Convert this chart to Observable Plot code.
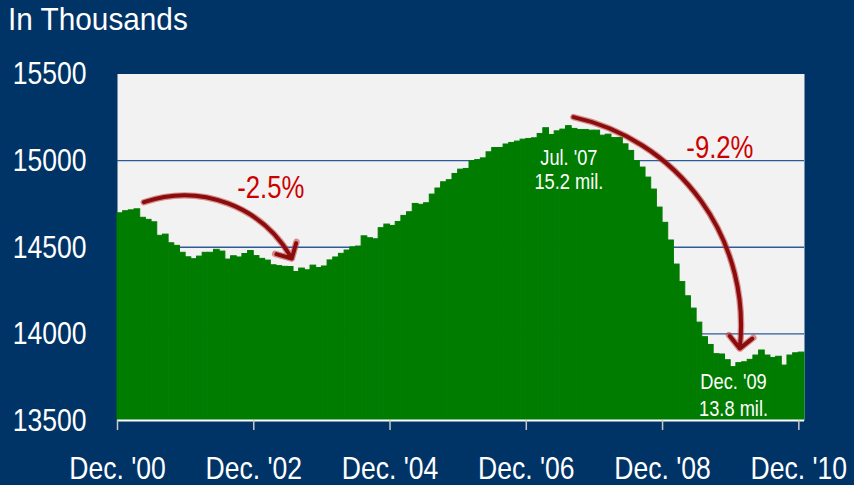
<!DOCTYPE html>
<html><head><meta charset="utf-8">
<script src="https://cdn.jsdelivr.net/npm/d3@7"></script>
<script src="https://cdn.jsdelivr.net/npm/@observablehq/plot@0.6"></script>
<style>
html,body{margin:0;padding:0;background:#003366;}
#wrap{position:relative;width:854px;height:485px;overflow:hidden;font-family:"Liberation Sans",Arial,sans-serif;}
#title{position:absolute;left:8px;top:3px;color:#fff;font-size:32px;line-height:32px;white-space:nowrap;transform:scaleX(0.93);transform-origin:0 0;}
#chart{position:absolute;left:0;top:0;}
</style></head><body><div id="wrap"><div id="chart"></div><div id="title">In Thousands</div></div>
<script>
// Monthly values (thousands), Dec 2000 .. Dec 2010
const employment = [
14696,14708,14713,14719,14670,14658,14644,14566,14573,14523,14508,14468,
14442,14431,14446,14468,14468,14485,14475,14429,14448,14441,14461,14478,
14449,14433,14423,14396,14391,14387,14386,14357,14377,14367,14394,14380,
14389,14424,14441,14462,14481,14499,14504,14563,14552,14546,14610,14631,
14623,14646,14681,14702,14750,14745,14754,14804,14839,14875,14887,14923,
14948,14952,14996,15003,15013,15048,15073,15073,15093,15102,15110,15121,
15125,15129,15154,15187,15148,15169,15179,15199,15183,15177,15177,15173,
15173,15144,15150,15130,15131,15094,15056,14997,14960,14902,14833,14729,
14641,14539,14400,14299,14217,14146,14065,13981,13936,13883,13881,13848,
13808,13831,13836,13850,13875,13904,13875,13861,13868,13817,13875,13888,
13892];
const tickMonths = [0,24,48,72,96,120];
const tickLabels = ["Dec. '00","Dec. '02","Dec. '04","Dec. '06","Dec. '08","Dec. '10"];
const yTicks = [13500,14000,14500,15000,15500];
const gridValues = [14000,14500,15000];
const noteText = ["Jul. '07","15.2 mil.","Dec. '09","13.8 mil."];
const noteMonth = [79.5,79.5,108.5,108.5];
const noteValue = [15017,14879,13725,13569];
const changeText = ["-2.5%","-9.2%"];
const changeMonth = [27,106.1];
const changeValue = [14839,15075];
const arrowFrom = [[4.64,14760],[80.3,15251]];
const arrowTo = [[30.7,14435],[109.6,13915]];

const data = employment.map((v,i)=>({i, v}));
const font = '"Liberation Sans",Arial,sans-serif';
function arrowMarks(k, bend){
  const o = {x1: d=>arrowFrom[d][0], y1: d=>arrowFrom[d][1], x2: d=>arrowTo[d][0], y2: d=>arrowTo[d][1], bend, headAngle: 90};
  return [
    Plot.arrow([k], {...o, stroke: "#c43a3a", strokeOpacity: 0.55, strokeWidth: 6.5, headLength: 4}),
    Plot.arrow([k], {...o, stroke: "#8a0c0c", strokeWidth: 4, headLength: 6})
  ];
}
const chart = Plot.plot({
  width: 854, height: 485,
  marginLeft: 117, marginRight: 50, marginTop: 73.5, marginBottom: 65,
  style: {background: "transparent", color: "white", fontFamily: font, fontSize: "32px"},
  x: {domain: [0,121], axis: null, label: null},
  y: {domain: [13500,15500], axis: null, label: null},
  marks: [
    Plot.frame({fill: "#f2f2f2", stroke: "none"}),
    Plot.ruleY(gridValues, {stroke: "#2d5a9a", strokeWidth: 1.4}),
    Plot.rectY(data, {x1: "i", x2: d=>d.i+1, y1: 13500, y2: "v", fill: "#007c00", stroke: "#007c00", strokeWidth: 1}),
    Plot.ruleY([13500], {stroke: "white", strokeWidth: 2}),
    Plot.axisX({ticks: tickMonths, label: null, tickSize: 10, stroke: "#c8c8c8", strokeWidth: 1.5, tickPadding: 26, fill: "white", fontSize: 32,
      tickFormat: d=>tickLabels[tickMonths.indexOf(d)]}),
    Plot.axisY({ticks: yTicks, label: null, tickSize: 0, tickPadding: 31, fill: "white", fontSize: 32, tickFormat: d3.format("d")}),
    Plot.text(noteText, {x: (d,i)=>noteMonth[i], y: (d,i)=>noteValue[i], text: d=>d, fill: "white", fontSize: 22}),
    Plot.text(changeText, {x: (d,i)=>changeMonth[i], y: (d,i)=>changeValue[i], text: d=>d, fill: "#cc0000", fontSize: 31}),
    ...arrowMarks(0, 40),
    ...arrowMarks(1, 42)
  ]
});
// condense text horizontally (narrow typeface look)
chart.querySelectorAll("text").forEach(t => {
  const tr = t.getAttribute("transform");
  if (tr) t.setAttribute("transform", tr + " scale(0.83,1)");
  else {
    const x = +t.getAttribute("x") || 0;
    t.setAttribute("transform", `translate(${x},0) scale(0.83,1) translate(${-x},0)`);
  }
});
document.getElementById("chart").append(chart);
</script></body></html>
